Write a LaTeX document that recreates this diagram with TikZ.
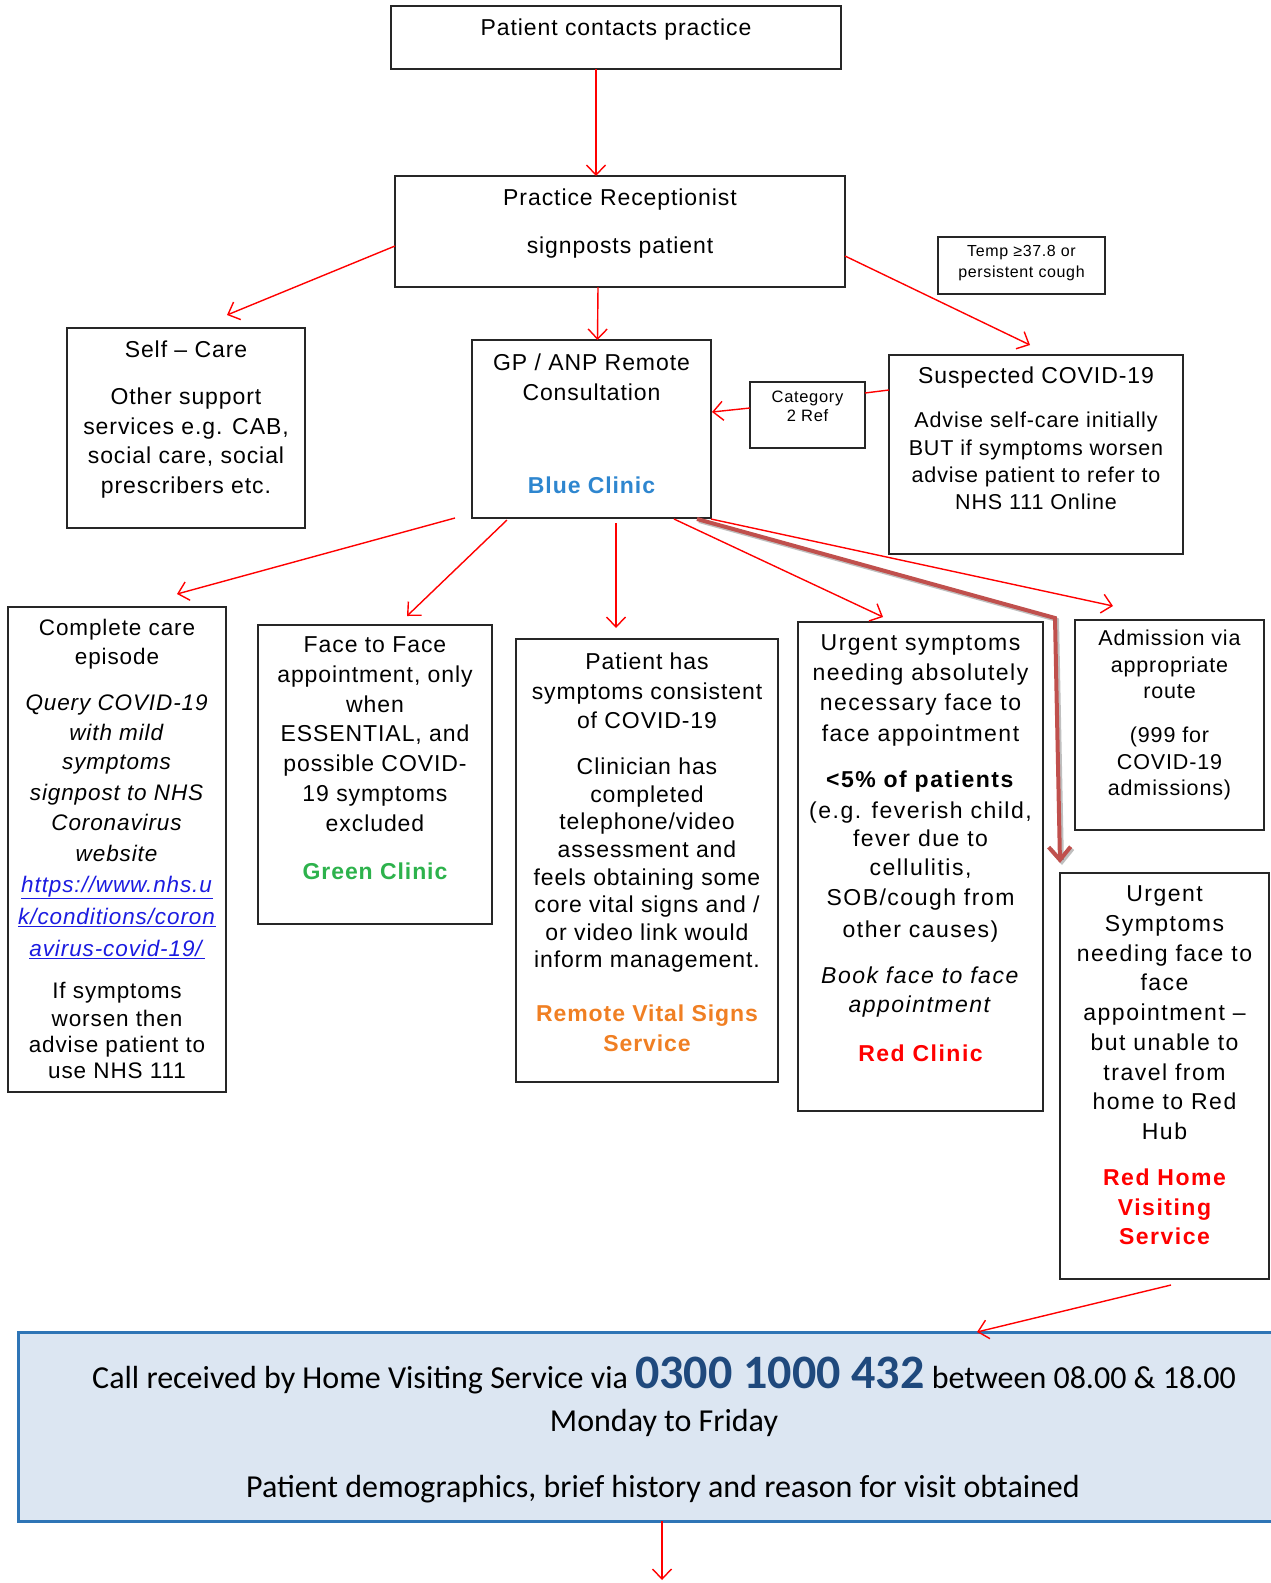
\documentclass[tikz,border=0pt]{standalone}
\usepackage{fontspec}
\setmainfont{Liberation Sans}[LetterSpace=4]
\newfontfamily\arwide{Liberation Sans}[LetterSpace=6.5]
\newfontfamily\calfont{Carlito}
\usetikzlibrary{arrows.meta,calc}
\definecolor{boxc}{HTML}{262626}
\definecolor{bluec}{HTML}{2E86CF}
\definecolor{greenc}{HTML}{2DB24C}
\definecolor{orangec}{HTML}{F07F23}
\definecolor{redc}{HTML}{FF0000}
\definecolor{linkc}{HTML}{1B1BE0}
\definecolor{darkred}{HTML}{C0504D}
\definecolor{fillc}{HTML}{DCE6F2}
\definecolor{borderc}{HTML}{2E75B6}
\definecolor{phonec}{HTML}{1F497D}
\begin{document}
\begin{tikzpicture}[x=1pt,y=-1pt,
  box/.style={draw=boxc,line width=1.8pt,rectangle,inner sep=0pt,outer sep=0pt},
  txt/.style={inner sep=0pt,outer sep=0pt,align=center,anchor=north,text=black},
  rarr/.style={draw=redc,line width=1.4pt,-{Straight Barb[length=10pt,width=19pt]}},
  rline/.style={draw=redc,line width=1.4pt},
  darr/.style={draw=darkred,line width=4pt,-{Straight Barb[length=13pt,width=22pt]}},
  sarr/.style={draw=black,opacity=0.25,line width=4pt,-{Straight Barb[length=13pt,width=22pt]}}]
\useasboundingbox (0,0) rectangle (1270,1583);

% boxes
\node[box,minimum width=450,minimum height=63] (pc) at (616,37.5) {};
\node[box,minimum width=450,minimum height=111] (rec) at (620,231.5) {};
\node[box,minimum width=167,minimum height=57] (temp) at (1021.5,265.5) {};
\node[box,minimum width=238,minimum height=200] (self) at (186,428) {};
\node[box,minimum width=239,minimum height=178] (gp) at (591.5,429) {};
\node[box,minimum width=115,minimum height=66] (cat) at (807.5,415) {};
\node[box,minimum width=294,minimum height=199] (susp) at (1036,454.5) {};
\node[box,minimum width=218,minimum height=485] (comp) at (117,849.5) {};
\node[box,minimum width=234,minimum height=299] (f2f) at (375,774.5) {};
\node[box,minimum width=262,minimum height=443] (pat) at (647,860.5) {};
\node[box,minimum width=245,minimum height=489] (urg) at (920.5,866.5) {};
\node[box,minimum width=189,minimum height=210] (adm) at (1169.5,725) {};
\node[box,minimum width=209,minimum height=406] (rhv) at (1164.5,1076) {};
\node[rectangle,draw=borderc,fill=fillc,line width=3pt,inner sep=0pt,outer sep=0pt,minimum width=1272,minimum height=189] (hvs) at (654,1426.5) {};

% texts
\node[txt,font=\fontsize{23}{29.6}\selectfont] (pct) at ($(pc.north)+(0,13)$) {Patient contacts practice};
\node[txt,font=\fontsize{23}{29.6}\selectfont] (rect) at ($(rec.north)+(0,13)$) {Practice Receptionist\\[18.4pt]signposts patient};
\node[txt,font=\fontsize{16}{21}\selectfont] (tempt) at ($(temp.north)+(0,8.5)$) {Temp ≥37.8 or\\persistent cough};
\node[txt,font=\fontsize{23}{29.6}\selectfont] (selft) at ($(self.north)+(0,13)$) {Self – Care\\[17.4pt]Other support\\services e.g. CAB,\\social care, social\\prescribers etc.};
\node[txt,font=\fontsize{23}{29.6}\selectfont] (gpt) at ($(gp.north)+(0,14)$) {GP / ANP Remote\\Consultation\\[63.4pt]\textcolor{bluec}{\bfseries Blue Clinic}};
\node[txt,font=\fontsize{16.5}{19}\selectfont] (catt) at ($(cat.north)+(0,9.4)$) {Category\\2 Ref};
\node[txt,font=\fontsize{23}{29.6}\selectfont] (suspt) at ($(susp.north)+(0,12)$) {Suspected COVID-19};
\node[txt,font=\fontsize{21.5}{27.3}\selectfont] (suspb) at ($(susp.north)+(0,57.4)$) {Advise self-care initially\\BUT if symptoms worsen\\advise patient to refer to\\NHS 111 Online};
\node[txt,font=\fontsize{22.5}{30}\selectfont] (compt) at ($(comp.north)+(0,12)$) {Complete care\\[-1pt]episode\\[16pt]\textit{Query COVID-19}\\\textit{with mild}\\[-1pt]\textit{symptoms}\\[1pt]\textit{signpost to NHS}\\\textit{Coronavirus}\\[1pt]\textit{website}\\[1pt]\textcolor{linkc}{\underline{\textit{https://www.nhs.u}}}\\[2pt]\textcolor{linkc}{\underline{\textit{k/conditions/coron}}}\\[2pt]\textcolor{linkc}{\underline{\textit{avirus-covid-19/}}}\\[12pt]If symptoms\\[-2pt]worsen then\\[-4pt]advise patient to\\[-4pt]use NHS 111};
\node[txt,font=\fontsize{23}{29.7}\selectfont] (f2ft) at ($(f2f.north)+(0,12)$) {Face to Face\\appointment, only\\when\\ESSENTIAL, and\\possible COVID-\\19 symptoms\\excluded\\[18.3pt]\textcolor{greenc}{\bfseries Green Clinic}};
\node[txt,font=\fontsize{23}{27.6}\selectfont] (patt) at ($(pat.north)+(0,14)$) {Patient has\\[2.4pt]symptoms consistent\\[1.4pt]of COVID-19\\[18.4pt]Clinician has\\completed\\telephone/video\\assessment and\\feels obtaining some\\core vital signs and /\\or video link would\\inform management.\\[26.4pt]\textcolor{orangec}{\bfseries Remote Vital Signs}\\[2.4pt]\textcolor{orangec}{\bfseries Service}};
\node[txt,font=\arwide\fontsize{23}{29.6}\selectfont] (urgt) at ($(urg.north)+(0,13)$) {Urgent symptoms\\needing absolutely\\necessary face to\\[1.4pt]face appointment\\[16.4pt]\textbf{<5\% of patients}\\[1.4pt](e.g. feverish child,\\[-1.6pt]fever due to\\cellulitis,\\SOB/cough from\\[2.4pt]other causes)\\[16.4pt]\textit{Book face to face}\\\textit{appointment}\\[19.4pt]\textcolor{redc}{\bfseries Red Clinic}};
\node[txt,font=\fontsize{21.5}{26.5}\selectfont] (admt) at ($(adm.north)+(0,10.4)$) {Admission via\\appropriate\\route\\[17.5pt](999 for\\COVID-19\\admissions)};
\node[txt,font=\arwide\fontsize{23}{29.7}\selectfont] (rhvt) at ($(rhv.north)+(0,13)$) {Urgent\\Symptoms\\needing face to\\face\\appointment –\\but unable to\\travel from\\home to Red\\Hub\\[16.3pt]\textcolor{redc}{\bfseries Red Home}\\\textcolor{redc}{\bfseries Visiting}\\\textcolor{redc}{\bfseries Service}};
\node[inner sep=0pt,anchor=base,font=\calfont\fontsize{32}{36}\selectfont] (hvs1) at (664,1388) {Call received by Home Visiting Service via \textcolor{phonec}{\bfseries\fontsize{48}{52}\selectfont 0300 1000 432} between 08.00 \& 18.00};
\node[inner sep=0pt,anchor=base,font=\calfont\fontsize{32}{36}\selectfont] (hvs2) at (664,1431) {Monday to Friday};
\node[inner sep=0pt,anchor=base,font=\calfont\fontsize{32}{36}\selectfont] (hvs3) at (663,1497) {Patient demographics, brief history and reason for visit obtained};

% connectors
\coordinate (bend) at (1055,618);
\coordinate (endpt) at (662,1580);
\draw[rarr] ($(pc.south)+(-20,0)$) -- ($(rec.north)+(-24,0)$);
\draw[rarr] ($(rec.west)+(0,14.5)$) -- ($(self.north)+(41,-13)$);
\draw[rarr] ($(rec.south)+(-22,0)$) -- ($(gp.north)+(6,0)$);
\draw[rarr] ($(rec.east)+(0,24.5)$) -- ($(susp.north)+(-6,-10)$);
\draw[rline] ($(susp.west)+(0,-64.5)$) -- ($(cat.east)+(0,-22)$);
\draw[rarr] ($(cat.west)+(0,-7)$) -- ($(gp.east)+(1,-17)$);
\draw[rarr] ($(gp.south west)+(-17,0)$) -- ($(comp.north)+(60,-13)$);
\draw[rarr] ($(gp.south west)+(35,2)$) -- ($(f2f.north)+(32,-9)$);
\draw[rarr] ($(gp.south)+(24.5,5)$) -- ($(pat.north)+(-31,-11)$);
\draw[rarr] ($(gp.south east)+(-37,1)$) -- ($(urg.north)+(-37.5,-5)$);
\draw[rarr] ($(gp.south east)+(0,1)$) -- ($(adm.north)+(-56.5,-14)$);
\draw[sarr,transform canvas={xshift=2pt,yshift=-2pt}] ($(gp.south east)+(-14,1)$) -- (bend) -- ($(rhv.north west)+(0,-10)$);
\draw[darr] ($(gp.south east)+(-14,1)$) -- (bend) -- ($(rhv.north west)+(0,-10)$);
\draw[rarr] ($(rhv.south)+(6.5,6)$) -- ($(hvs.north west)+(959,0)$);
\draw[rarr] ($(hvs.south)+(8,0)$) -- (endpt);
\end{tikzpicture}
\end{document}
